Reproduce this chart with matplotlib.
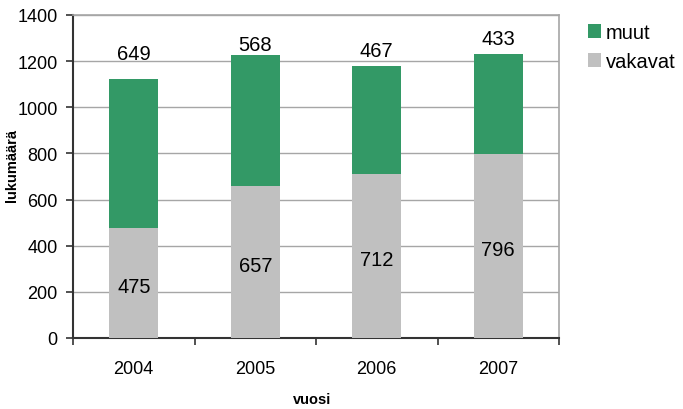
import matplotlib
matplotlib.use("Agg")
import matplotlib.pyplot as plt
import numpy as np

plt.rcParams['font.family'] = ['Liberation Sans', 'DejaVu Sans']

years = ["2004", "2005", "2006", "2007"]
vakavat = [475, 657, 712, 796]
muut = [649, 568, 467, 433]
# heights at which the "muut" values are written above each column
muut_label_y = [1233, 1273, 1248, 1298]

green = "#339966"
grey = "#c0c0c0"

fig = plt.figure(figsize=(6.83, 4.10), dpi=100)
ax = fig.add_axes([73 / 683, 71 / 410, (559 - 73) / 683, (339 - 16) / 410])

x = np.arange(len(years))
w = 0.40
ax.bar(x, vakavat, w, color=grey, label="vakavat", zorder=3)
ax.bar(x, muut, w, bottom=vakavat, color=green, label="muut", zorder=3)

for xi, v in zip(x, vakavat):
    ax.text(xi, v / 2 - 15, str(v), ha="center", va="center", fontsize=14.5, color="black", zorder=4)
for xi, m, ly in zip(x, muut, muut_label_y):
    ax.text(xi, ly, str(m), ha="center", va="center", fontsize=14.5, color="black", zorder=4)

ax.set_xlim(-0.5, len(years) - 0.5)
ax.set_ylim(0, 1400)
ax.set_yticks(np.arange(0, 1401, 200))
ax.yaxis.grid(True, color="#a6a6a6", linewidth=1.0, zorder=0)
ax.set_axisbelow(True)

# category labels in the middle, tick marks on the boundaries
ax.set_xticks(x)
ax.set_xticklabels(years, fontsize=13)
ax.set_xticks(np.arange(-0.5, len(years)), minor=True)
ax.tick_params(axis="x", which="major", length=0, pad=16)
ax.tick_params(axis="x", which="minor", length=5, width=1.2, color="#333333", direction="out")
ax.tick_params(axis="y", labelsize=13, length=5, width=1.2, color="#333333", direction="out", pad=6)

for side in ("left", "bottom"):
    ax.spines[side].set_color("#333333")
    ax.spines[side].set_linewidth(1.5)
for side in ("right", "top"):
    ax.spines[side].set_color("#a6a6a6")
    ax.spines[side].set_linewidth(1.2)

fig.text(12 / 683, 1 - 165 / 410, "lukumäärä", rotation=90, ha="center", va="center",
         fontsize=10.5, fontweight="bold")
fig.text(312 / 683, 1 - 400 / 410, "vuosi", ha="center", va="center",
         fontsize=10.5, fontweight="bold")

handles, labels = ax.get_legend_handles_labels()
leg = fig.legend(handles[::-1], labels[::-1], loc="upper left",
                 bbox_to_anchor=(588 / 683, 1 - 24 / 410), frameon=False,
                 fontsize=14.5, handlelength=0.65, handleheight=0.65,
                 handletextpad=0.25, labelspacing=0.5, borderaxespad=0,
                 borderpad=0)

fig.savefig("out.png", dpi=100)
